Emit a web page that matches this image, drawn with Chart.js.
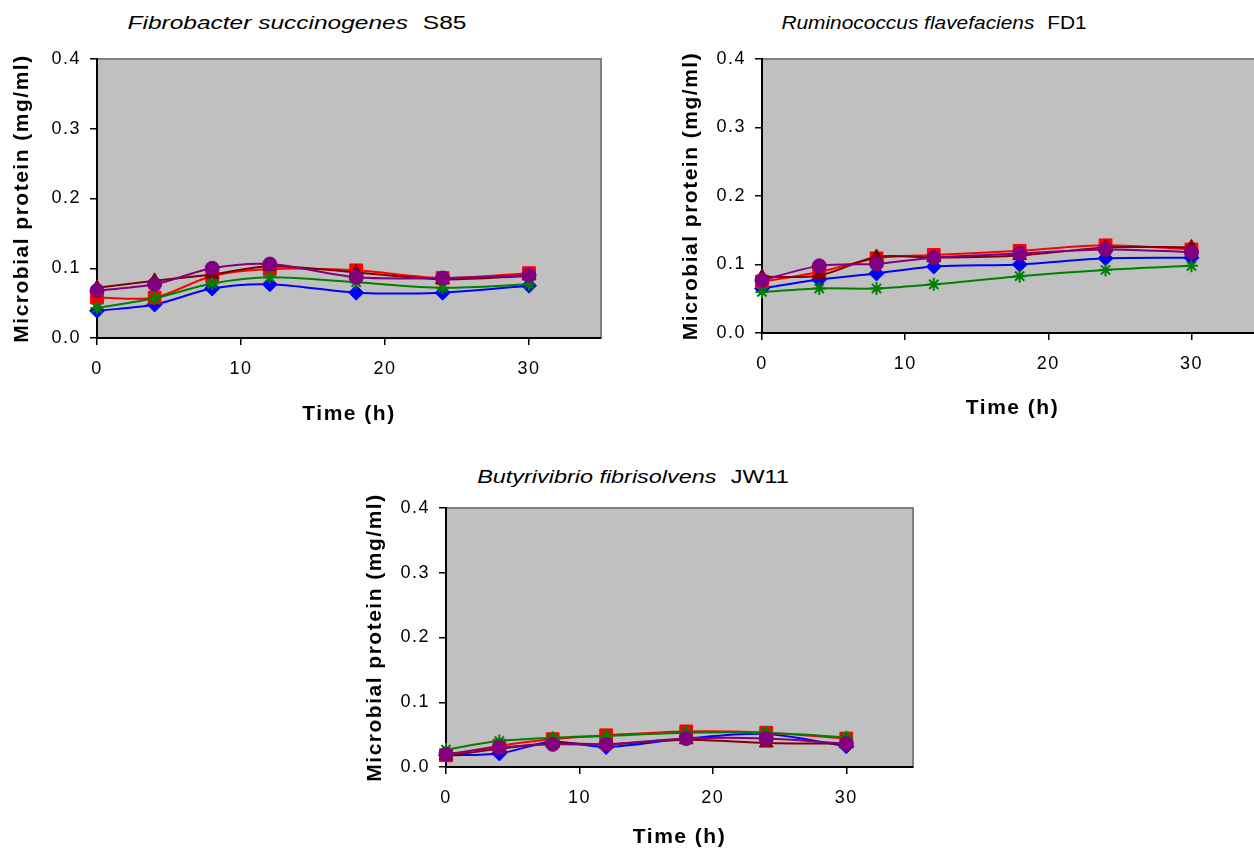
<!DOCTYPE html>
<html lang="en">
<head>
  <meta charset="UTF-8" />
  <title>Microbial protein</title>
  <script src="https://cdn.jsdelivr.net/npm/chart.js"></script>
  <style>
    body {
      margin: 0;
      padding: 0;
      background-color: #fff;
      width: 1254px;
      height: 849px;
      overflow: hidden;
      position: relative;
      font-family: 'Liberation Sans', Arial, sans-serif;
    }

    canvas {
      position: absolute;
    }

    .panel-title {
      position: absolute;
      font-size: 18px;
      color: #000;
      white-space: nowrap;
    }

    .panel-title i {
      margin-right: 6px;
    }
  </style>
</head>
<body>

  <div class="panel-title" style="left: 297px; top: 23px; transform: translate(-50%, -50%) scaleX(1.36);"><i>Fibrobacter succinogenes</i> S85</div>
  <div class="panel-title" style="left: 934px; top: 23px; transform: translate(-50%, -50%) scaleX(1.16);"><i>Ruminococcus flavefaciens</i> FD1</div>
  <div class="panel-title" style="left: 633px; top: 477px; transform: translate(-50%, -50%) scaleX(1.3);"><i>Butyrivibrio fibrisolvens</i> JW11</div>

  <canvas id="fsChart" width="620" height="430" style="left: 0; top: 0;"></canvas>
  <canvas id="rfChart" width="640" height="430" style="left: 640px; top: 0;"></canvas>
  <canvas id="bfChart" width="600" height="420" style="left: 340px; top: 440px;"></canvas>

  <script>
    // sampling times (h) and axis ticks
    const times = [0, 4, 8, 12, 18, 24, 30];
    const xTickValues = [0, 10, 20, 30];
    const yTickValues = [0, 0.1, 0.2, 0.3, 0.4];

    // Fibrobacter succinogenes S85
    const fsBlue   = [0.039, 0.048, 0.071, 0.077, 0.065, 0.065, 0.075];
    const fsRed    = [0.058, 0.058, 0.089, 0.099, 0.097, 0.086, 0.093];
    const fsMaroon = [0.072, 0.082, 0.091, 0.103, 0.094, 0.084, 0.089];
    const fsGreen  = [0.043, 0.057, 0.078, 0.087, 0.080, 0.072, 0.077];
    const fsPurple = [0.068, 0.077, 0.100, 0.106, 0.087, 0.086, 0.090];

    // Ruminococcus flavefaciens FD1
    const rfBlue   = [0.065, 0.078, 0.087, 0.097, 0.100, 0.109, 0.110];
    const rfRed    = [0.075, 0.089, 0.109, 0.114, 0.120, 0.128, 0.122];
    const rfMaroon = [0.082, 0.084, 0.111, 0.110, 0.113, 0.125, 0.125];
    const rfGreen  = [0.060, 0.065, 0.065, 0.071, 0.083, 0.092, 0.098];
    const rfPurple = [0.077, 0.098, 0.101, 0.110, 0.116, 0.122, 0.118];

    // Butyrivibrio fibrisolvens JW11
    const bfBlue   = [0.018, 0.021, 0.039, 0.031, 0.044, 0.051, 0.032];
    const bfRed    = [0.018, 0.033, 0.043, 0.049, 0.055, 0.053, 0.044];
    const bfMaroon = [0.017, 0.028, 0.037, 0.035, 0.042, 0.037, 0.036];
    const bfGreen  = [0.027, 0.040, 0.045, 0.048, 0.053, 0.053, 0.046];
    const bfPurple = [0.020, 0.030, 0.035, 0.035, 0.044, 0.044, 0.036];

    const FONT = "'Liberation Sans', Arial, sans-serif";

    // grey plot area with darker top/right edge, wide text like the original
    const plotBackground = {
      id: 'plotBackground',
      beforeDraw(chart) {
        const { ctx, chartArea: a } = chart;
        ctx.letterSpacing = '1.5px';
        ctx.save();
        ctx.fillStyle = '#c0c0c0';
        ctx.fillRect(a.left, a.top, a.right - a.left, a.bottom - a.top);
        ctx.strokeStyle = '#808080';
        ctx.lineWidth = 2;
        ctx.beginPath();
        ctx.moveTo(a.left, a.top);
        ctx.lineTo(a.right, a.top);
        ctx.lineTo(a.right, a.bottom);
        ctx.stroke();
        ctx.restore();
      }
    };

    function series(values, color, style, radius, borderWidth) {
      return {
        data: times.map((t, i) => ({ x: t, y: values[i] })),
        borderColor: color,
        backgroundColor: color,
        borderWidth: 2,
        pointStyle: style,
        pointRadius: radius,
        pointBackgroundColor: color,
        pointBorderColor: color,
        pointBorderWidth: borderWidth || 1,
        tension: 0.3,
        clip: false
      };
    }

    function makeChart(id, sets, g) {
      const ctx = document.getElementById(id).getContext('2d');
      // first dataset is drawn on top
      return new Chart(ctx, {
        type: 'line',
        data: {
          datasets: [
            series(sets[4], '#800080', 'circle', 7),
            series(sets[3], '#008000', 'star', 6.5, 2),
            series(sets[2], '#800000', 'triangle', 8),
            series(sets[1], '#ff0000', 'rect', 9),
            series(sets[0], '#0000ff', 'rectRot', 7.5)
          ]
        },
        options: {
          responsive: false,
          animation: false,
          devicePixelRatio: 1,
          layout: {
            padding: { left: 0, top: g.top, right: g.right, bottom: 0 }
          },
          scales: {
            x: {
              type: 'linear',
              min: 0,
              max: 35,
              afterBuildTicks: s => { s.ticks = xTickValues.map(v => ({ value: v })); },
              afterFit: s => { s.height = g.xHeight; },
              grid: {
                drawOnChartArea: false,
                drawTicks: true,
                tickLength: 7,
                color: '#000',
                lineWidth: 1.5
              },
              border: { color: '#000', width: 2 },
              ticks: {
                color: '#000',
                padding: 13,
                maxRotation: 0,
                autoSkip: false,
                font: { family: FONT, size: 18 }
              },
              title: {
                display: true,
                text: 'Time (h)',
                color: '#000',
                font: { family: FONT, size: 21, weight: 'bold' },
                padding: { top: 0, bottom: g.xTitlePad }
              }
            },
            y: {
              min: 0,
              max: 0.4,
              afterBuildTicks: s => { s.ticks = yTickValues.map(v => ({ value: v })); },
              afterFit: s => { s.width = g.yWidth; },
              grid: {
                drawOnChartArea: false,
                drawTicks: true,
                tickLength: 7,
                color: '#000',
                lineWidth: 1.5
              },
              border: { color: '#000', width: 2 },
              ticks: {
                color: '#000',
                padding: 9,
                font: { family: FONT, size: 18 },
                callback: v => v.toFixed(1)
              },
              title: {
                display: true,
                text: 'Microbial protein (mg/ml)',
                color: '#000',
                font: { family: FONT, size: 21, weight: 'bold' },
                padding: { top: g.yTitlePad, bottom: 0 }
              }
            }
          },
          plugins: {
            legend: { display: false },
            tooltip: { enabled: false }
          }
        },
        plugins: [plotBackground]
      });
    }

    makeChart('fsChart', [fsBlue, fsRed, fsMaroon, fsGreen, fsPurple],
      { top: 59, right: 19, yWidth: 97, xHeight: 92, yTitlePad: 10, xTitlePad: 3 });

    makeChart('rfChart', [rfBlue, rfRed, rfMaroon, rfGreen, rfPurple],
      { top: 59, right: 17, yWidth: 122, xHeight: 97, yTitlePad: 39, xTitlePad: 9 });

    makeChart('bfChart', [bfBlue, bfRed, bfMaroon, bfGreen, bfPurple],
      { top: 68, right: 27, yWidth: 106, xHeight: 93, yTitlePad: 23, xTitlePad: 10 });
  </script>

</body>
</html>
